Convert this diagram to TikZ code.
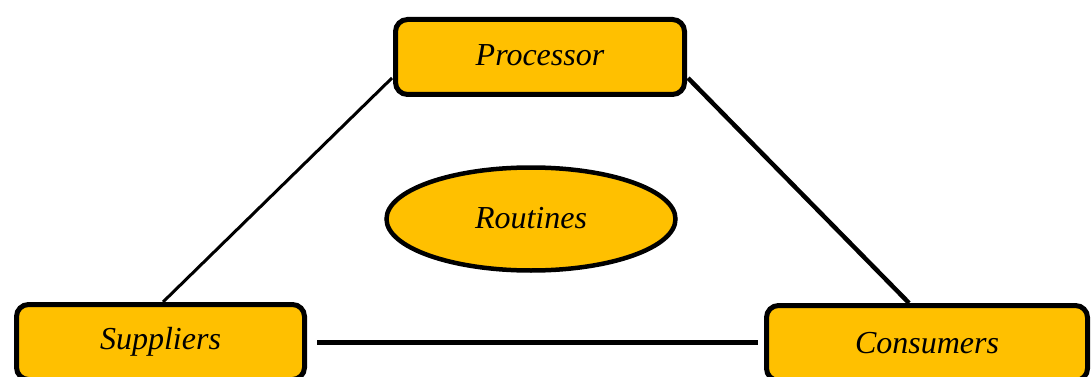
\documentclass[tikz,border=0pt]{standalone}
\usepackage{fontspec}
\setmainfont{Liberation Serif}
\usetikzlibrary{shapes.geometric,calc,backgrounds}
\definecolor{gold}{HTML}{FFC000}
\tikzset{
  box/.style={draw=black, line width=5pt, fill=gold, rounded corners=12pt, inner sep=0pt, font=\fontsize{32}{36}\selectfont\itshape},
  oval/.style={ellipse, draw=black, line width=4.5pt, fill=gold, inner sep=0pt, font=\fontsize{32}{36}\selectfont\itshape},
  link/.style={draw=black}
}
\begin{document}
\begin{tikzpicture}[x=1pt,y=-1pt]
\useasboundingbox (0,0) rectangle (1092,377);
\clip (0,0) rectangle (1092,377);
\node[box, minimum width=289pt, minimum height=75pt] (proc) at (540,57) {\raisebox{3pt}{Processor}};
\node[box, minimum width=288pt, minimum height=75pt] (sup) at (160.5,342) {Suppliers};
\node[box, minimum width=321pt, minimum height=75pt] (cons) at (927,343) {Consumers};
\node[oval, minimum width=289pt, minimum height=103pt] (rout) at (531,219) {\raisebox{3pt}{Routines}};
\begin{scope}[on background layer]
\fill[white] (0,0) rectangle (1092,377);
\draw[link, line width=3pt] ([yshift=-21pt,xshift=-1pt]proc.west) -- ([xshift=2.5pt]sup.north);
\draw[link, line width=4.5pt] ([yshift=-21pt,xshift=1pt]proc.east) -- ([xshift=-18pt]cons.north);
\draw[link, line width=5pt, shorten <=10pt, shorten >=6pt] (sup.east) -- (sup.east -| cons.west);
\end{scope}
\end{tikzpicture}
\end{document}
